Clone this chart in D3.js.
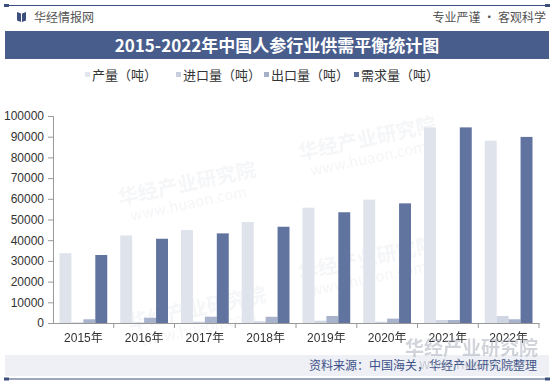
<!DOCTYPE html>
<html>
<head>
<meta charset="utf-8">
<script src="https://cdn.jsdelivr.net/npm/d3@7"></script>
<style>
  body { margin: 0; background: #fff; }
  svg { display: block; font-family: "Noto Sans CJK SC", "Liberation Sans", sans-serif; }
</style>
</head>
<body>
<div id="chart"></div>
<script>
var years = ['2015年','2016年','2017年','2018年','2019年','2020年','2021年','2022年'];
var seriesNames = ['产量（吨）','进口量（吨）','出口量（吨）','需求量（吨）'];
var output = [33700, 42300, 44900, 48800, 55700, 59600, 94500, 88100];
var imports = [300, 300, 650, 800, 1100, 600, 1450, 3400];
var exports = [1800, 2550, 3050, 3000, 3400, 2100, 1450, 1800];
var demand = [32850, 40700, 43300, 46500, 53500, 57800, 94500, 89900];
var yTicks = [0,10000,20000,30000,40000,50000,60000,70000,80000,90000,100000];

var colors = ['#dfe3ec', '#cfd5e2', '#a9b3cb', '#61749f'];
var legendColors = ['#e3e6ee', '#c9cfdd', '#a6b0c8', '#5b6e9a'];

var W = 554, H = 385;
var svg = d3.select('#chart').append('svg')
  .attr('width', W).attr('height', H);

// header lines
function capLine(y) {
  svg.append('line').attr('x1', 5).attr('x2', 549).attr('y1', y).attr('y2', y)
    .attr('stroke', '#3d4f7c').attr('stroke-width', 1.2);
  svg.append('rect').attr('x', 4).attr('y', y - 1.5).attr('width', 5).attr('height', 3).attr('fill', '#3d4f7c');
  svg.append('rect').attr('x', 545).attr('y', y - 1.5).attr('width', 5).attr('height', 3).attr('fill', '#3d4f7c');
}
capLine(5.5);
capLine(379);

// header logo + site names
var logo = svg.append('g').attr('transform', 'translate(17,12)');
logo.append('path').attr('d', 'M0,0 L4,1.5 L4,10 L0,8.5 Z').attr('fill', '#3d4f7c');
logo.append('path').attr('d', 'M5,1.5 L9,0 L9,8.5 L5,10 Z').attr('fill', '#3d4f7c');
svg.append('text').attr('x', 34).attr('y', 21.5)
  .attr('font-size', 12).attr('fill', '#555').text('华经情报网');
svg.append('text').attr('x', 546).attr('y', 21.5).attr('text-anchor', 'end')
  .attr('font-size', 12).attr('fill', '#555').text('专业严谨 • 客观科学');

// title band
svg.append('rect').attr('x', 5).attr('y', 31).attr('width', 544).attr('height', 28).attr('fill', '#495d8d');
svg.append('text').attr('x', 277).attr('y', 51.5).attr('text-anchor', 'middle')
  .attr('font-size', 17).attr('font-weight', 'bold').attr('fill', '#fff')
  .text('2015-2022年中国人参行业供需平衡统计图');

// footer band
svg.append('rect').attr('x', 5).attr('y', 355).attr('width', 544).attr('height', 21).attr('fill', '#eef0f5');
svg.append('text').attr('x', 537).attr('y', 370).attr('text-anchor', 'end')
  .attr('font-size', 12).attr('fill', '#3c5088').text('资料来源：中国海关，华经产业研究院整理');

// watermarks
var wm = svg.append('g').attr('fill', '#8892aa').attr('opacity', 0.09);
[[120, 205], [300, 160], [130, 330], [300, 280]].forEach(function(p) {
  var g = wm.append('g').attr('transform', 'translate(' + p[0] + ',' + p[1] + ') rotate(-12)');
  g.append('text').attr('font-size', 20).attr('font-weight', 'bold').text('华经产业研究院');
  g.append('text').attr('y', 18).attr('x', 8).attr('font-size', 15).text('www.huaon.com');
});

// scales
var x0 = d3.scaleBand().domain(years).range([53, 539]);
var x1 = d3.scaleBand().domain(seriesNames).range([6.5, x0.bandwidth() - 6.5]);
var y = d3.scaleLinear().domain([0, 100000]).range([323, 116]);

var seriesData = [output, imports, exports, demand];

// bars
var groups = svg.selectAll('.year')
  .data(years).enter().append('g')
  .attr('class', 'year')
  .attr('transform', function(d) { return 'translate(' + x0(d) + ',0)'; });

groups.selectAll('rect')
  .data(function(d, i) {
    return seriesNames.map(function(s, k) { return { s: s, k: k, v: seriesData[k][i] }; });
  })
  .enter().append('rect')
  .attr('x', function(d) { return x1(d.s); })
  .attr('width', x1.bandwidth())
  .attr('y', function(d) { return y(d.v); })
  .attr('height', function(d) { return y(0) - y(d.v); })
  .attr('fill', function(d) { return colors[d.k]; });

// y axis
var yAxis = svg.append('g')
  .attr('transform', 'translate(53,0)')
  .call(d3.axisLeft(y).tickValues(yTicks).tickSize(5).tickPadding(4).tickFormat(d3.format('d')));
yAxis.selectAll('text').attr('font-size', 12).attr('fill', '#333')
  .attr('font-family', '"Liberation Sans", Arial, sans-serif');
yAxis.selectAll('line, path').attr('stroke', '#999');

// x axis
var xAxis = svg.append('g')
  .attr('transform', 'translate(0,323)')
  .call(d3.axisBottom(x0).tickSize(0).tickPadding(10));
xAxis.selectAll('text').attr('font-size', 12).attr('fill', '#333')
  .attr('font-family', '"Liberation Sans", "Noto Sans CJK SC", sans-serif');
xAxis.select('.domain').attr('stroke', '#999');
xAxis.selectAll('.sep')
  .data(years.slice(1).concat(['end'])).enter().append('line')
  .attr('class', 'sep')
  .attr('x1', function(d) { return d === 'end' ? 539 : x0(d); })
  .attr('x2', function(d) { return d === 'end' ? 539 : x0(d); })
  .attr('y1', 0).attr('y2', 5).attr('stroke', '#999');

// legend
var legendX = [85, 176, 264, 354];
var legend = svg.selectAll('.legend')
  .data(seriesNames).enter().append('g')
  .attr('class', 'legend')
  .attr('transform', function(d, i) { return 'translate(' + legendX[i] + ',75)'; });
legend.append('rect').attr('x', 0).attr('y', -3).attr('width', 5).attr('height', 5)
  .attr('fill', function(d, i) { return legendColors[i]; });
legend.append('text').attr('x', 7).attr('y', 5)
  .attr('font-size', 13).attr('fill', '#333').text(function(d) { return d; });

// bottom-right watermark
var wm2 = svg.append('g').attr('transform', 'translate(405,355)').attr('opacity', 0.45);
wm2.append('text').attr('font-size', 19).attr('font-weight', 'bold').attr('fill', '#9aa0ad').text('华经产业研究院');
wm2.append('text').attr('x', 14).attr('y', 14).attr('font-size', 14).attr('fill', '#9aa0ad').text('www.huaon.com');
</script>
</body>
</html>
